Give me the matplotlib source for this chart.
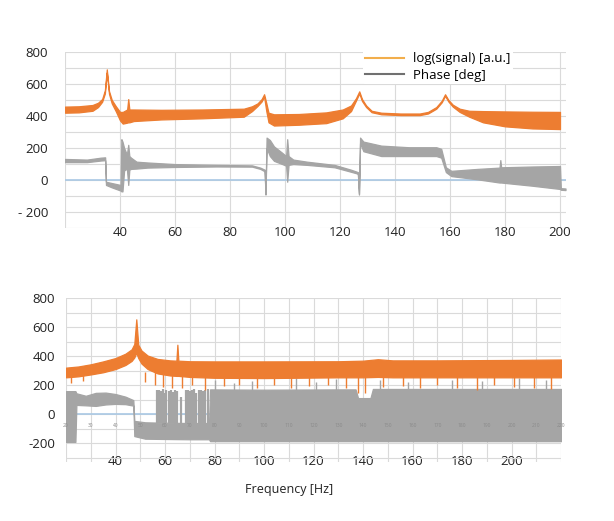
import numpy as np
import matplotlib.pyplot as plt
from matplotlib.lines import Line2D

plt.rcParams['font.family'] = ['Open Sans', 'DejaVu Sans']

ORANGE = '#ED7D31'
GRAY = '#A5A5A5'
GRID = '#DADADA'
ZERO = '#A9C8E4'

# ---- top panel: log(signal) envelope
sig1_f = [20, 25, 30, 32, 33.5, 34.5, 35.2, 36, 37, 38.5, 40, 41, 42.6, 43, 43.4, 45, 55, 70, 85, 88,
          90, 91.5, 92.4, 93.2, 94, 96, 105, 115, 121, 124, 125.8, 127, 128, 129.5, 131.5, 135, 142, 149,
          152, 155, 157, 158.2, 159.4, 161, 163.5, 167, 172, 180, 190, 200]
sig1_hi = [458, 460, 468, 482, 505, 560, 690, 555, 500, 460, 425, 425, 440, 505, 440, 440, 438, 440, 445, 460,
           478, 505, 535, 480, 420, 410, 412, 422, 440, 465, 510, 553, 505, 465, 432, 420, 415, 415,
           425, 455, 495, 535, 500, 470, 445, 432, 430, 428, 426, 425]
sig1_lo = [420, 422, 432, 455, 488, 540, 670, 538, 478, 428, 372, 352, 358, 360, 360, 368, 378, 385, 395, 430,
           462, 490, 520, 430, 360, 340, 345, 355, 385, 430, 495, 540, 493, 455, 423, 410, 405, 405,
           415, 445, 485, 525, 490, 458, 425, 395, 360, 335, 322, 318]

# ---- top panel: phase envelope
ph1_f = [20, 28, 33, 34.6, 34.9, 37, 40.2, 40.5, 40.9, 41.5, 42.5, 43.0, 43.4, 44, 46, 50, 60, 75, 88, 91,
         92.6, 92.9, 93.3, 94.5, 96, 99, 100.4, 100.8, 101.3, 103, 108, 118, 124, 126.5, 126.9, 127.3,
         128.5, 135, 145, 155, 156.8, 158.5, 160.5, 170, 178, 178.3, 178.6, 190, 200, 200.3, 202]
ph1_hi = [132, 128, 140, 142, -10, -18, -30, 255, 240, 200, 160, 220, 150, 140, 115, 110, 100, 95, 92, 78,
          65, -85, 265, 250, 210, 170, 150, 255, 150, 128, 115, 95, 65, 50, -85, 265,
          240, 215, 205, 205, 195, 80, 58, 70, 78, 125, 80, 85, 88, -50, -52]
ph1_lo = [112, 112, 122, 124, -30, -45, -65, -70, -70, 60, 72, -30, 65, 70, 72, 78, 82, 85, 84, 70,
          55, -90, 200, 150, 120, 100, 90, -10, 95, 100, 95, 80, 52, 40, -90, 230,
          180, 150, 150, 150, 140, 50, 25, 5, -15, -15, -15, -35, -55, -60, -62]

# ---- bottom panel: log(signal) envelope
sig2_f = [20, 25, 30, 35, 40, 44, 46.5, 47.6, 48.4, 49.2, 50.5, 53, 57, 62, 64.6, 65, 65.4, 70, 80, 100,
          130, 140, 146, 152, 170, 200, 220]
sig2_hi = [322, 330, 345, 365, 388, 418, 448, 485, 655, 480, 440, 405, 382, 372, 370, 480, 370, 366, 365, 365,
           366, 370, 380, 372, 372, 375, 378]
sig2_lo = [255, 262, 275, 290, 312, 340, 368, 392, 425, 388, 350, 312, 282, 268, 265, 265, 265, 258, 252, 250,
           255, 255, 258, 255, 255, 255, 255]
sig2_dip_f = [22, 27, 52, 56, 59, 63, 67, 71, 76, 84, 90, 97, 104, 111, 118, 126, 133, 138, 141, 148,
              156, 163, 170, 178, 186, 193, 201, 209, 216]
sig2_dip_v = [215, 230, 225, 200, 190, 185, 180, 200, 170, 195, 205, 185, 200, 180, 195, 205, 185, 150, 145, 190,
              195, 180, 200, 185, 170, 200, 190, 180, 175]

# ---- bottom panel: phase envelope
ph2_f = [20, 23.8, 24.2, 28, 32, 36, 40, 44, 47.2, 47.6, 52, 60, 70, 77.8, 78.2, 100, 130, 137, 138, 143,
         144, 170, 200, 220]
ph2_hi = [160, 160, 145, 128, 148, 150, 140, 122, 98, -45, -55, -58, -60, -60, 172, 170, 172, 172, 112, 112,
          175, 175, 175, 175]
ph2_lo = [-190, -190, 65, 62, 58, 68, 72, 70, 60, -150, -168, -170, -172, -172, -185, -185, -185, -185, -185, -185,
          -185, -185, -185, -185]
ph2_spk_f = [56.8, 57.5, 58.2, 59.0, 59.8, 60.6, 61.5, 62.4, 63.2, 64.0, 64.9, 66.5, 68.6, 69.4, 70.2, 71.0,
             71.8, 72.7, 73.6, 74.5, 75.4, 76.3, 77.2]
ph2_spk_v = [165, 170, 160, 172, 150, 168, 160, 170, 155, 168, 162, 120, 165, 170, 158, 168,
             172, 150, 165, 170, 160, 168, 172]
ph2_up_f = [80, 88, 95, 113, 121, 129, 147, 158, 176, 188, 203, 214]
ph2_up_v = [240, 215, 230, 250, 220, 245, 235, 225, 240, 230, 250, 235]

# axis ticks / labels
top_xgrid = list(range(20, 201, 20))
top_xlab = ['' if v == 20 else str(v) for v in top_xgrid]
bot_xgrid = list(range(20, 221, 10))
bot_xlab = [str(v) if (v % 20 == 0 and 40 <= v <= 200) else '' for v in bot_xgrid]
yticks = [-200, 0, 200, 400, 600, 800]
top_ylab = ['- 200', '0', '200', '400', '600', '800']
bot_ylab = ['-200', '0', '200', '400', '600', '800']

fig = plt.figure(figsize=(6.14, 5.21), dpi=100)
ax1 = fig.add_axes([65 / 614, 1 - 228.3 / 521, 500.5 / 614, 176.6 / 521])
ax2 = fig.add_axes([66 / 614, 1 - 462.2 / 521, 495 / 614, 163.9 / 521])


def style(ax, xgrid, xlab, ylab, ymin, xmax, xpad, ypad):
    ax.set_xlim(20, xmax)
    ax.set_ylim(ymin, 800)
    ax.set_xticks(xgrid)
    ax.set_xticklabels(xlab)
    ax.set_yticks(yticks)
    ax.set_yticklabels(ylab)
    ax.set_yticks(np.arange(-300, 801, 100), minor=True)
    ax.grid(True, which='both', color=GRID, lw=0.8)
    ax.set_axisbelow(True)
    for s in ax.spines.values():
        s.set_visible(False)
    ax.tick_params(which='both', length=0)
    ax.tick_params(axis='x', pad=xpad, labelsize=9.5, colors='#222222')
    ax.tick_params(axis='y', pad=ypad, labelsize=9.5, colors='#222222')
    ax.axhline(0, color=ZERO, lw=1.2, zorder=1.5)


style(ax1, top_xgrid, top_xlab, top_ylab, -209, 202, -1.5, 12)
style(ax2, bot_xgrid, bot_xlab, bot_ylab, -330, 220, -5, 8)

# top panel
ax1.fill_between(ph1_f, ph1_lo, ph1_hi, color=GRAY, lw=0.9, zorder=2)
ax1.fill_between(sig1_f, sig1_lo, sig1_hi, color=ORANGE, lw=0.9, zorder=3)

# bottom panel
ax2.fill_between(ph2_f, ph2_lo, ph2_hi, color=GRAY, lw=0.9, zorder=2)
ax2.vlines(ph2_spk_f, -60, ph2_spk_v, color=GRAY, lw=1.6, zorder=2)
ax2.vlines(ph2_up_f, 170, ph2_up_v, color=GRAY, lw=1.0, zorder=2)
ax2.fill_between(sig2_f, sig2_lo, sig2_hi, color=ORANGE, lw=0.9, zorder=3)
ax2.vlines(sig2_dip_f, sig2_dip_v, 290, color=ORANGE, lw=1.0, zorder=3)

for v in bot_xgrid:
    ax2.text(v, -80, str(v), fontsize=3.5, color='#8a8a8a', ha='center', va='center', zorder=4)

handles = [Line2D([], [], color='#F2AE4C', lw=1.5), Line2D([], [], color='#707070', lw=1.5)]
leg = fig.legend(handles, ['log(signal) [a.u.]', 'Phase [deg]'], loc='upper left',
                 bbox_to_anchor=(356 / 614, 1 - 43 / 521), bbox_transform=fig.transFigure,
                 fontsize=9.5, handlelength=2.9, handletextpad=0.7, labelspacing=0.25,
                 frameon=True, borderpad=0.2, framealpha=1)
leg.get_frame().set_edgecolor('none')
leg.get_frame().set_facecolor('white')

fig.text(289 / 614, 1 - 490 / 521, 'Frequency [Hz]', fontsize=9, ha='center', va='center', color='#222222')

fig.savefig('out.png', dpi=100)
